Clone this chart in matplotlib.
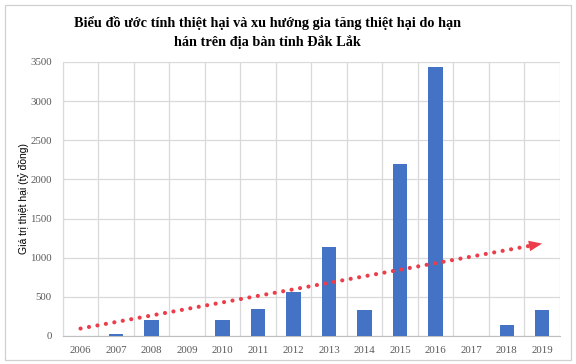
import matplotlib
matplotlib.use("Agg")
import matplotlib.pyplot as plt
from matplotlib.patches import FancyBboxPatch

years = ["2006", "2007", "2008", "2009", "2010", "2011", "2012",
         "2013", "2014", "2015", "2016", "2017", "2018", "2019"]
damage = [0, 25, 210, 0, 210, 350, 560, 1140, 335, 2190, 3430, 0, 145, 330]
trend_start = 95
trend_end = 1180
y_ticks = [0, 500, 1000, 1500, 2000, 2500, 3000, 3500]

title = "Biểu đồ ước tính thiệt hại và xu hướng gia tăng thiệt hại do hạn\nhán trên địa bàn tỉnh Đắk Lắk"
ylabel = "Giá trị thiệt hại (tỷ đồng)"


def trend_at(i):
    return trend_start + (trend_end - trend_start) * i / 13


def main():
    fig = plt.figure(figsize=(5.76, 3.64), dpi=100)
    ax = fig.add_axes([0.109, 0.077, 0.863, 0.753])

    x = list(range(len(years)))
    ax.bar(x, damage, width=0.4, color="#4472C4", zorder=3)

    # dotted trend line with arrow head
    ax.plot([0, 12.65], [trend_at(0), trend_at(12.65)],
            color="#EC3E4A", lw=3.0, linestyle=(0, (0.01, 2.05)),
            dash_capstyle="round", zorder=4)
    ax.annotate("", xy=(13, trend_at(13)), xytext=(12.5, trend_at(12.5)),
                arrowprops=dict(arrowstyle="-|>,head_length=0.95,head_width=0.38",
                                color="#EC3E4A", lw=0, mutation_scale=10,
                                shrinkA=0, shrinkB=0),
                zorder=5)

    ax.set_xlim(-0.5, len(years) - 0.5)
    ax.set_ylim(0, 3500)
    ax.set_yticks(y_ticks)
    ax.set_xticks(x)
    ax.set_xticklabels(years)
    ax.set_xticks([i - 0.5 for i in range(len(years) + 1)], minor=True)

    ax.grid(True, which="major", axis="y", color="#D9D9D9", lw=0.9, zorder=0)
    ax.grid(True, which="minor", axis="x", color="#D9D9D9", lw=0.9, zorder=0)
    ax.tick_params(which="both", length=0)
    ax.tick_params(axis="x", pad=7)
    ax.tick_params(axis="y", pad=8)
    for lab in ax.get_xticklabels() + ax.get_yticklabels():
        lab.set_family("Liberation Serif")
        lab.set_fontsize(7.8)
        lab.set_color("#595959")

    for side in ["top", "right"]:
        ax.spines[side].set_visible(False)
    ax.spines["left"].set_color("#D9D9D9")
    ax.spines["bottom"].set_color("#BFBFBF")

    ax.set_ylabel(ylabel, family="Liberation Sans", fontsize=7.5)
    ax.yaxis.set_label_coords(-0.068, 0.5)

    fig.text(0.465, 0.955, title, ha="center", va="top",
             family="Liberation Serif", fontweight="bold", fontsize=10.3,
             linespacing=1.4)

    border = FancyBboxPatch((0.008, 0.012), 0.984, 0.975, transform=fig.transFigure,
                            boxstyle="square,pad=0", fill=False,
                            edgecolor="#D0D0D0", lw=0.9)
    fig.patches.append(border)

    fig.savefig("out.png", dpi=100)


if __name__ == "__main__":
    main()
